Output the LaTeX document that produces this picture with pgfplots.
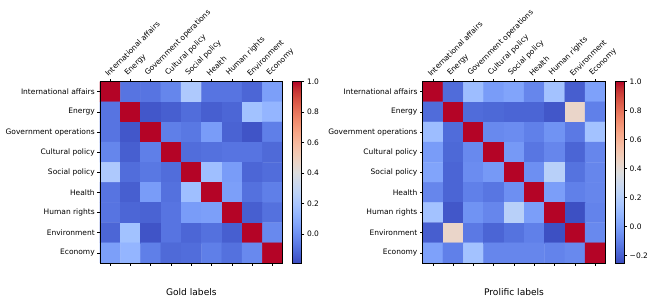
\documentclass[border=0pt]{standalone}
\usepackage{pgfplots}
\pgfplotsset{compat=1.18}
\usepackage{fontspec}
\setmainfont{DejaVu Sans}
\pgfplotsset{colormap={coolwarm}{
rgb=(0.2298,0.2987,0.7537) rgb=(0.2667,0.3529,0.8000) rgb=(0.3020,0.4078,0.8431) rgb=(0.3412,0.4588,0.8824)
rgb=(0.3843,0.5098,0.9176) rgb=(0.4235,0.5569,0.9451) rgb=(0.4667,0.6039,0.9686) rgb=(0.5098,0.6471,0.9843)
rgb=(0.5529,0.6902,0.9961) rgb=(0.5961,0.7255,1.0000) rgb=(0.6392,0.7608,1.0000) rgb=(0.6824,0.7882,0.9922)
rgb=(0.7216,0.8157,0.9765) rgb=(0.7608,0.8353,0.9569) rgb=(0.7961,0.8471,0.9333) rgb=(0.8314,0.8588,0.9020)
rgb=(0.8667,0.8667,0.8667) rgb=(0.8980,0.8471,0.8196) rgb=(0.9255,0.8275,0.7725) rgb=(0.9451,0.8000,0.7216)
rgb=(0.9608,0.7686,0.6784) rgb=(0.9686,0.7333,0.6275) rgb=(0.9686,0.6941,0.5804) rgb=(0.9686,0.6510,0.5294)
rgb=(0.9569,0.6039,0.4824) rgb=(0.9451,0.5529,0.4353) rgb=(0.9255,0.4980,0.3882) rgb=(0.8980,0.4392,0.3451)
rgb=(0.8706,0.3765,0.3020) rgb=(0.8353,0.3137,0.2588) rgb=(0.7961,0.2431,0.2196) rgb=(0.7529,0.1569,0.1843)
rgb=(0.7059,0.0157,0.1490)}}
\newcommand{\tfont}{\fontsize{7.5}{9}\selectfont}
\newcommand{\lfont}{\fontsize{9.1}{11}\selectfont}
\pgfplotsset{hm/.style={
  width=182.7pt, height=181.3pt, scale only axis,
  xmin=-0.5, xmax=8.5, ymin=-0.5, ymax=8.5, y dir=reverse,
  enlargelimits=false, axis on top,
  xtick={0,...,8}, ytick={0,...,8},
  xticklabels={International affairs, Energy, Government operations, Cultural policy, Social policy, Health, Human rights, Environment, Economy},
  yticklabels={International affairs, Energy, Government operations, Cultural policy, Social policy, Health, Human rights, Environment, Economy},
  xticklabel pos=right, xtick pos=both, ytick pos=left,
  tick align=outside, major tick length=2.6pt,
  tick style={black, line width=0.6pt},
  axis line style={black, line width=0.6pt},
  xticklabel style={rotate=45, anchor=south west, font=\tfont, inner sep=0pt, yshift=2.5pt},
  yticklabel style={font=\tfont, inner sep=0pt, xshift=-2.5pt},
  colormap name=coolwarm,
  xlabel style={font=\lfont, at={(axis description cs:0.5,0)}, anchor=base, yshift=-33pt},
}}
\begin{document}
\begin{tikzpicture}
\useasboundingbox (-100pt,-41pt) rectangle (554pt,263pt);
\begin{axis}[hm, at={(0pt,0pt)}, anchor=south west,
  xlabel={Gold labels},
  point meta min=-0.19, point meta max=1,
  colorbar,
  colorbar style={width=9pt, at={(parent axis.north east)}, anchor=north west, xshift=1.5pt,
    ytick={0,0.2,0.4,0.6,0.8,1.0}, yticklabels={0.0,0.2,0.4,0.6,0.8,1.0},
    yticklabel style={font=\tfont, inner sep=0pt, xshift=2.5pt},
    ytick pos=right, yticklabel pos=right, tick align=outside, major tick length=2.6pt,
    tick style={black, line width=0.6pt}, axis line style={black, line width=0.6pt}}]
\addplot[matrix plot*, mesh/cols=9, point meta=explicit] table[meta=C]{
x y C
0 0 1.00
1 0 -0.08
2 0 -0.08
3 0 -0.03
4 0 0.22
5 0 -0.08
6 0 -0.08
7 0 -0.12
8 0 0.05
0 1 -0.08
1 1 1.00
2 1 -0.16
3 1 -0.14
4 1 -0.10
5 1 -0.14
6 1 -0.12
7 1 0.18
8 1 0.13
0 2 -0.08
1 2 -0.16
2 2 1.00
3 2 -0.05
4 2 -0.07
5 2 0.04
6 2 -0.13
7 2 -0.17
8 2 -0.05
0 3 -0.03
1 3 -0.14
2 3 -0.05
3 3 1.00
4 3 -0.10
5 3 -0.09
6 3 -0.08
7 3 -0.08
8 3 -0.11
0 4 0.22
1 4 -0.10
2 4 -0.07
3 4 -0.10
4 4 1.00
5 4 0.17
6 4 0.04
7 4 -0.12
8 4 -0.10
0 5 -0.08
1 5 -0.14
2 5 0.04
3 5 -0.09
4 5 0.17
5 5 1.00
6 5 0.05
7 5 -0.09
8 5 -0.05
0 6 -0.08
1 6 -0.12
2 6 -0.13
3 6 -0.08
4 6 0.04
5 6 0.05
6 6 1.00
7 6 -0.14
8 6 -0.09
0 7 -0.12
1 7 0.18
2 7 -0.17
3 7 -0.08
4 7 -0.12
5 7 -0.09
6 7 -0.14
7 7 1.00
8 7 -0.02
0 8 0.05
1 8 0.13
2 8 -0.05
3 8 -0.11
4 8 -0.10
5 8 -0.05
6 8 -0.09
7 8 -0.02
8 8 1.00
};
\end{axis}
\begin{axis}[hm, at={(322.7pt,0pt)}, anchor=south west,
  xlabel={Prolific labels},
  point meta min=-0.25, point meta max=1,
  colorbar,
  colorbar style={width=9pt, at={(parent axis.north east)}, anchor=north west, xshift=1.5pt,
    ytick={-0.2,0,0.2,0.4,0.6,0.8,1.0}, yticklabels={−0.2,0.0,0.2,0.4,0.6,0.8,1.0},
    yticklabel style={font=\tfont, inner sep=0pt, xshift=2.5pt},
    ytick pos=right, yticklabel pos=right, tick align=outside, major tick length=2.6pt,
    tick style={black, line width=0.6pt}, axis line style={black, line width=0.6pt}}]
\addplot[matrix plot*, mesh/cols=9, point meta=explicit] table[meta=C]{
x y C
0 0 1.00
1 0 -0.16
2 0 0.12
3 0 -0.01
4 0 0.02
5 0 -0.08
6 0 0.14
7 0 -0.20
8 0 0.01
0 1 -0.16
1 1 1.00
2 1 -0.16
3 1 -0.17
4 1 -0.18
5 1 -0.18
6 1 -0.22
7 1 0.44
8 1 -0.10
0 2 0.12
1 2 -0.16
2 2 1.00
3 2 -0.07
4 2 -0.06
5 2 -0.10
6 2 -0.04
7 2 -0.12
8 2 0.14
0 3 -0.01
1 3 -0.17
2 3 -0.07
3 3 1.00
4 3 -0.02
5 3 -0.13
6 3 -0.08
7 3 -0.18
8 3 -0.08
0 4 0.02
1 4 -0.18
2 4 -0.06
3 4 -0.02
4 4 1.00
5 4 -0.05
6 4 0.22
7 4 -0.14
8 4 -0.08
0 5 -0.08
1 5 -0.18
2 5 -0.10
3 5 -0.13
4 5 -0.05
5 5 1.00
6 5 0.00
7 5 -0.10
8 5 -0.08
0 6 0.14
1 6 -0.22
2 6 -0.04
3 6 -0.08
4 6 0.22
5 6 0.00
6 6 1.00
7 6 -0.24
8 6 -0.09
0 7 -0.20
1 7 0.44
2 7 -0.12
3 7 -0.18
4 7 -0.14
5 7 -0.10
6 7 -0.24
7 7 1.00
8 7 -0.07
0 8 0.01
1 8 -0.10
2 8 0.14
3 8 -0.08
4 8 -0.08
5 8 -0.08
6 8 -0.09
7 8 -0.07
8 8 1.00
};
\end{axis}
\end{tikzpicture}
\end{document}
